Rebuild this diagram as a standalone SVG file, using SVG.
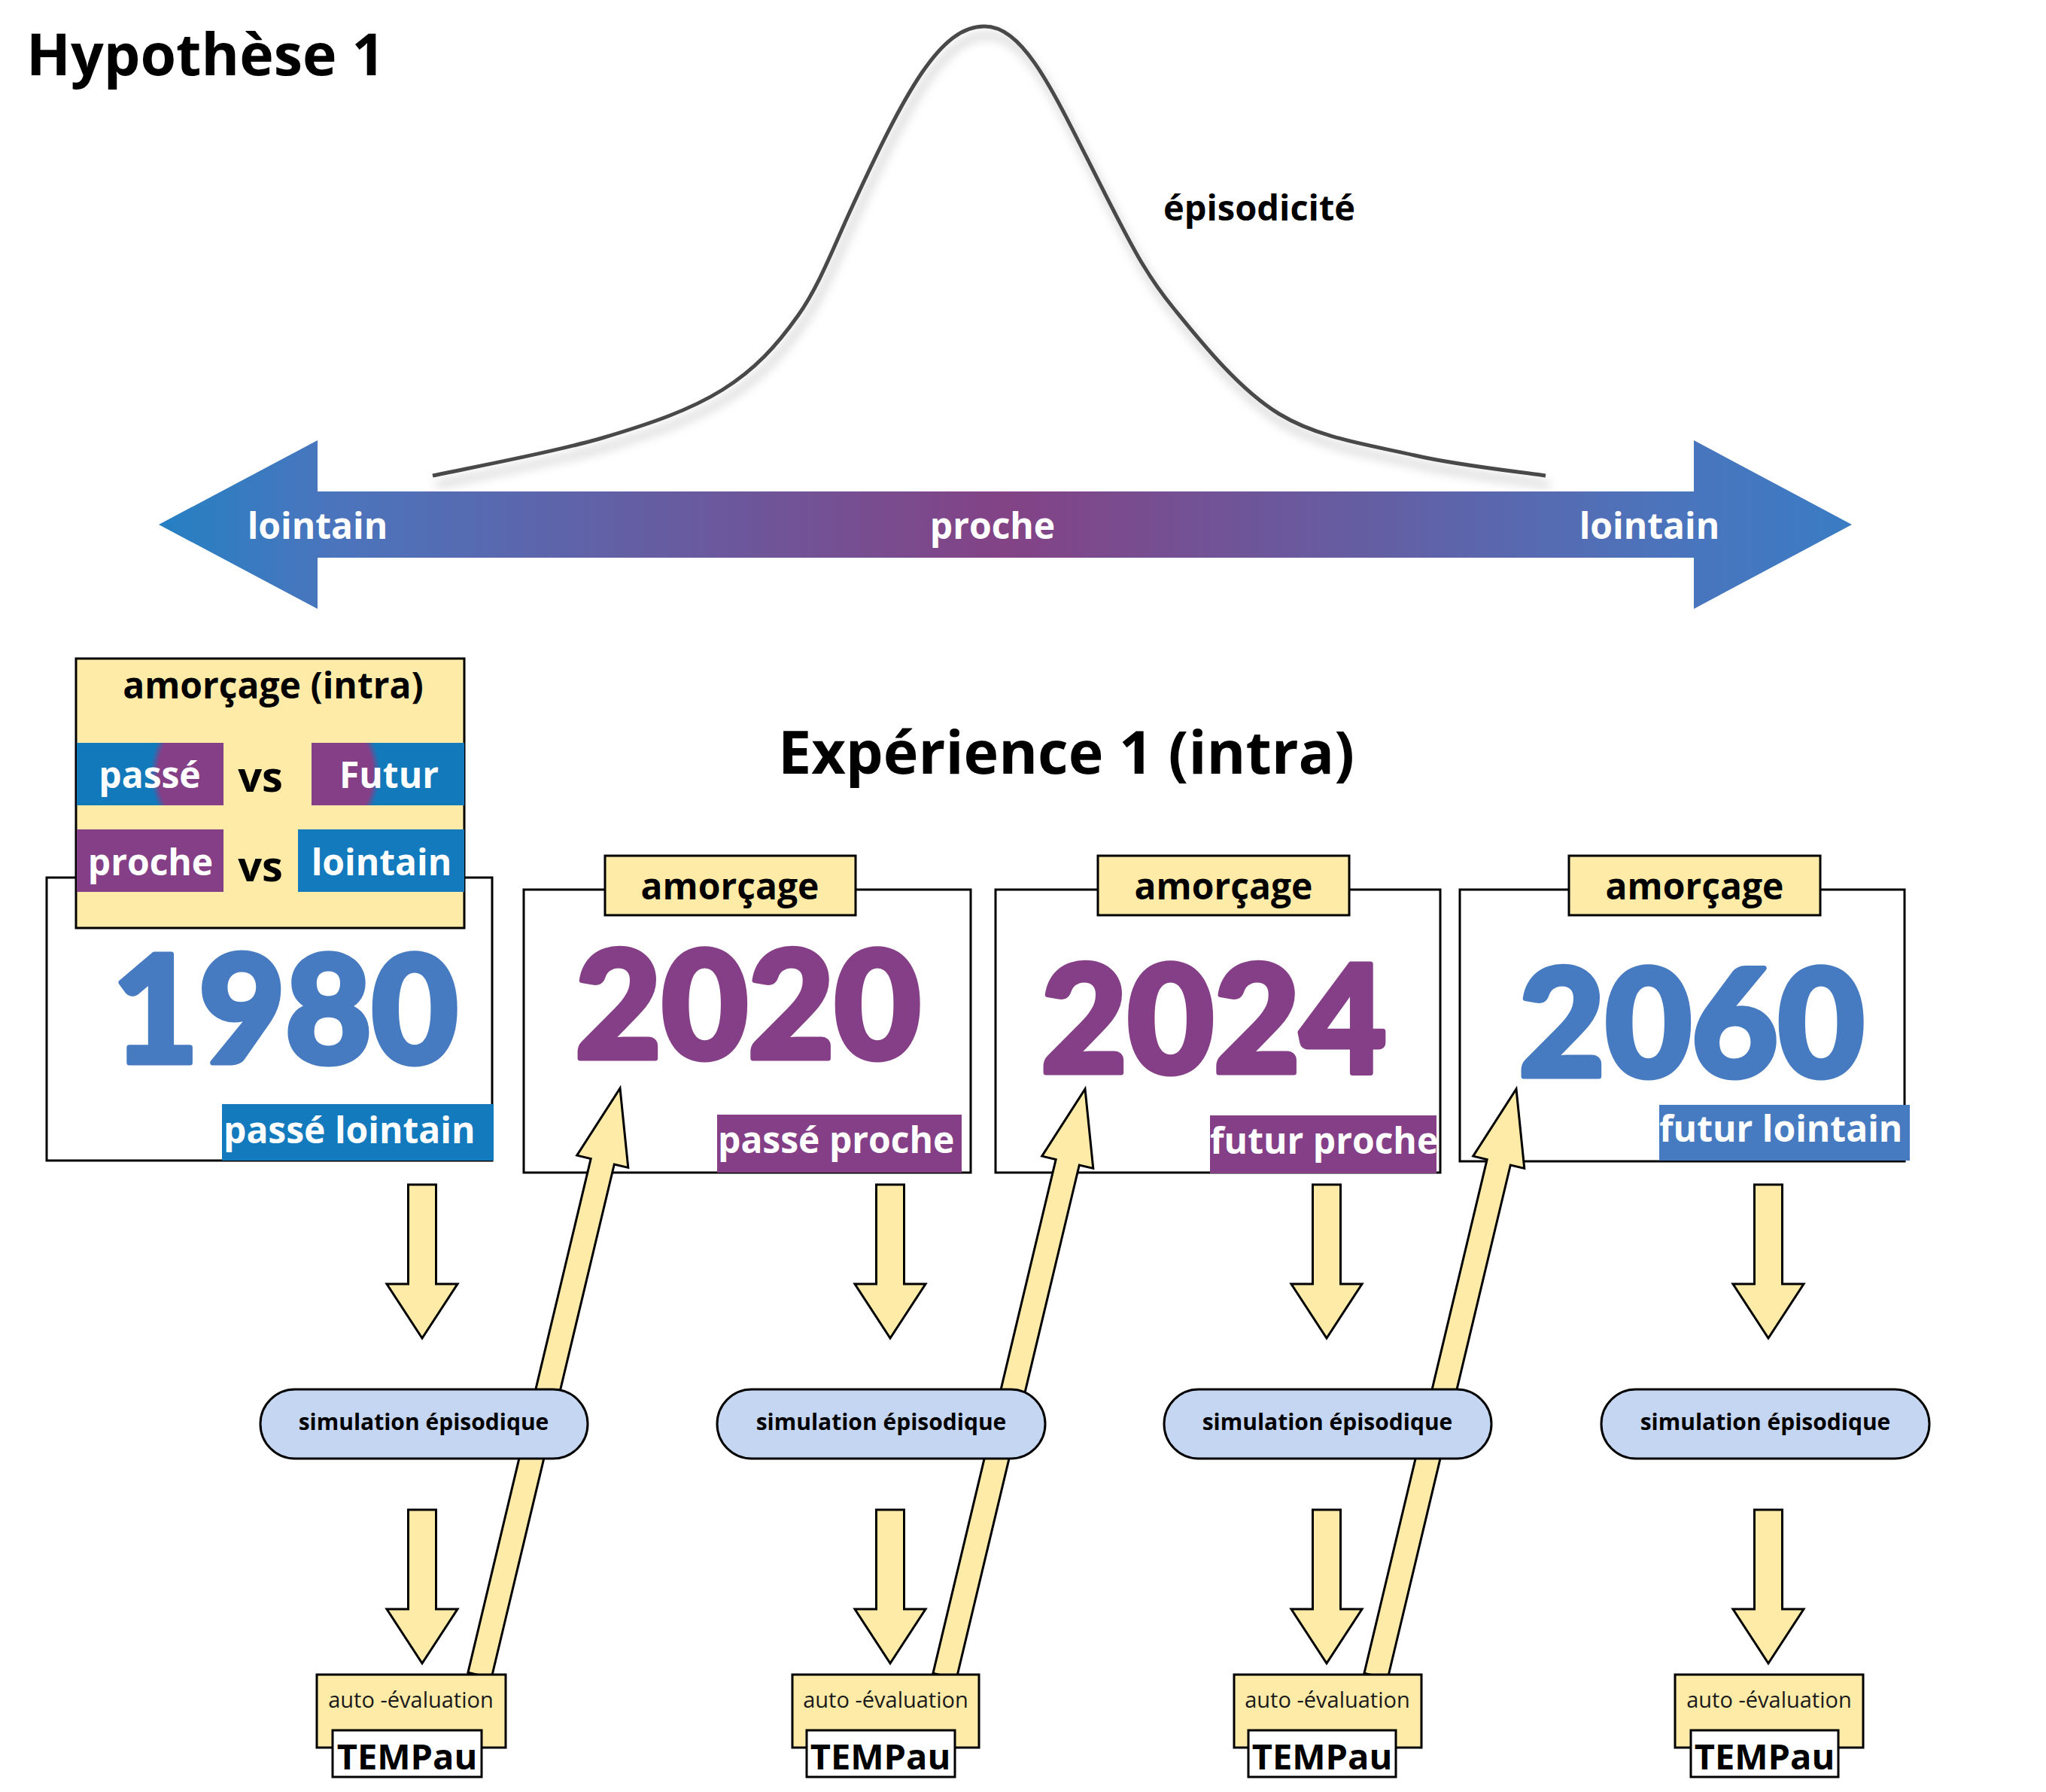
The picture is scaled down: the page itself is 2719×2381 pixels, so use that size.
<svg xmlns="http://www.w3.org/2000/svg" xmlns:xlink="http://www.w3.org/1999/xlink" width="2719" height="2381" viewBox="0 0 2719 2381">
<defs>
<style>
text{font-family:"Open Sans","Noto Sans","Liberation Sans",sans-serif;}
.b{font-weight:700;}
.w{fill:#ffffff;}
.k{fill:#000000;}
.yel{fill:#ffeba8;stroke:#000;stroke-width:3;}
.frame{fill:#ffffff;stroke:#000;stroke-width:3;}
.pill{fill:#c5d6f2;stroke:#000;stroke-width:3;}
.arr{fill:#ffeba8;stroke:#000;stroke-width:3;stroke-linejoin:miter;}
.num{font-family:"Lato","Inter","Open Sans",sans-serif;font-weight:900;font-size:198px;text-anchor:middle;stroke-width:7;stroke-linejoin:round;}
.blue{fill:#477bc1;stroke:#477bc1;}
.purp{fill:#843f87;stroke:#843f87;}
.lab{font-weight:700;font-size:48px;fill:#fff;}
.sim{font-weight:700;font-size:30px;text-anchor:middle;fill:#000;}
.auto{font-size:29px;text-anchor:middle;fill:#1a1a1a;}
.tmp{font-weight:700;font-size:47px;text-anchor:middle;fill:#000;}
.amo{font-weight:700;font-size:48px;text-anchor:middle;fill:#000;}
</style>
<linearGradient id="axis" gradientUnits="userSpaceOnUse" x1="211" y1="0" x2="2461" y2="0">
<stop offset="0" stop-color="#2580c3"/>
<stop offset="0.1" stop-color="#4a75bd"/>
<stop offset="0.5" stop-color="#834385"/>
<stop offset="0.9" stop-color="#4a75bd"/>
<stop offset="1" stop-color="#3a7cc4"/>
</linearGradient>
<radialGradient id="passeG" gradientUnits="userSpaceOnUse" cx="300" cy="1028" r="100">
<stop offset="0.9" stop-color="#843f87"/>
<stop offset="1" stop-color="#1279bb"/>
</radialGradient>
<radialGradient id="futurG" gradientUnits="userSpaceOnUse" cx="405" cy="1028" r="100">
<stop offset="0.9" stop-color="#843f87"/>
<stop offset="1" stop-color="#1279bb"/>
</radialGradient>
<filter id="shadow" x="-10%" y="-10%" width="120%" height="130%">
<feDropShadow dx="5" dy="12" stdDeviation="7" flood-color="#000" flood-opacity="0.28"/>
</filter>
<path id="down" d="M-18.5,0 H18.5 V132 H47 L0,204 L-47,132 H-18.5 Z"/>
<path id="up" d="M0,0 L35,100 L16,100 L16,802 L-16,802 L-16,100 L-35,100 Z"/>
</defs>

<rect width="2719" height="2381" fill="#ffffff"/>

<g id="title">
<text x="35" y="100" class="b" font-size="77">Hypothèse 1</text>
</g>

<g id="bell-curve">
<path d="M575,632 C612.5,623.7 735.8,601 800,582 C864.2,563 916.7,545 960,518 C1003.3,491 1031.7,459.7 1060,420 C1088.3,380.3 1106.7,330.8 1130,280 C1204.6,117.4 1250,35 1308,35 C1366,35 1405,135 1480,280 C1505,328.3 1523.3,365 1560,410 C1596.7,455 1646.7,517.5 1700,550 C1753.3,582.5 1821,591.3 1880,605 C1939,618.7 2025,627.5 2054,632" fill="none" stroke="#484848" stroke-width="5" filter="url(#shadow)"/>
<text x="1546" y="293" class="b" font-size="47">épisodicité</text>
</g>

<g id="time-axis">
<polygon points="211,697 422,585 422,653 2251,653 2251,585 2461,697 2251,809 2251,741 422,741 422,809" fill="url(#axis)"/>
<text x="422" y="716" class="b w" font-size="48" text-anchor="middle">lointain</text>
<text x="1319" y="716" class="b w" font-size="48" text-anchor="middle">proche</text>
<text x="2192" y="716" class="b w" font-size="48" text-anchor="middle">lointain</text>
</g>

<g id="experience-title">
<text x="1417" y="1028" class="b" font-size="79" text-anchor="middle">Expérience 1 (intra)</text>
</g>

<g id="node-1980">
<rect x="62" y="1166" width="592" height="376" class="frame"/>
<text x="379" y="1412" class="num blue">1980</text>
<rect x="295" y="1467" width="361" height="75" fill="#127abd"/>
<text x="297" y="1519" class="lab">passé lointain</text>
</g>

<g id="node-amorcage-intra">
<rect x="101" y="875" width="516" height="358" class="yel"/>
<text x="363" y="928" class="amo">amorçage (intra)</text>
<rect x="102" y="987" width="195" height="83" fill="url(#passeG)"/>
<text x="199" y="1047" class="lab" text-anchor="middle">passé</text>
<text x="346" y="1052" class="b k" font-size="56" text-anchor="middle">vs</text>
<rect x="414" y="987" width="203" height="83" fill="url(#futurG)"/>
<text x="517" y="1047" class="lab" text-anchor="middle">Futur</text>
<rect x="102" y="1102" width="195" height="83" fill="#843f87"/>
<text x="200" y="1163" class="lab" text-anchor="middle">proche</text>
<text x="346" y="1171" class="b k" font-size="56" text-anchor="middle">vs</text>
<rect x="396" y="1102" width="221" height="83" fill="#127abd"/>
<text x="507" y="1163" class="lab" text-anchor="middle">lointain</text>
</g>

<g id="node-2020">
<rect x="696" y="1182" width="594" height="376" class="frame"/>
<rect x="804" y="1137" width="333" height="79" class="yel"/>
<text x="970" y="1195" class="amo">amorçage</text>
<text x="994" y="1406" class="num purp">2020</text>
<rect x="953" y="1481" width="325" height="77" fill="#843f87"/>
<text x="954" y="1532" class="lab">passé proche</text>
</g>

<g id="node-2024">
<rect x="1323" y="1182" width="591" height="376" class="frame"/>
<rect x="1459" y="1137" width="334" height="79" class="yel"/>
<text x="1626" y="1195" class="amo">amorçage</text>
<text x="1613" y="1425" class="num purp">2024</text>
<rect x="1608" y="1482" width="301" height="77" fill="#843f87"/>
<text x="1608" y="1533" class="lab">futur proche</text>
</g>

<g id="node-2060">
<rect x="1940" y="1182" width="591" height="361" class="frame"/>
<rect x="2085" y="1137" width="334" height="79" class="yel"/>
<text x="2252" y="1195" class="amo">amorçage</text>
<text x="2248" y="1430" class="num blue">2060</text>
<rect x="2205" y="1468" width="333" height="74" fill="#477bc1"/>
<text x="2205" y="1517" class="lab">futur lointain</text>
</g>

<g id="connectors">
<use href="#up" class="arr" transform="translate(824,1446) rotate(13.45)"/>
<use href="#up" class="arr" transform="translate(1442,1447) rotate(13.45)"/>
<use href="#up" class="arr" transform="translate(2015,1447) rotate(13.45)"/>
<use href="#down" class="arr" x="561" y="1574"/>
<use href="#down" class="arr" x="561" y="2006"/>
<use href="#down" class="arr" x="1183" y="1574"/>
<use href="#down" class="arr" x="1183" y="2006"/>
<use href="#down" class="arr" x="1763" y="1574"/>
<use href="#down" class="arr" x="1763" y="2006"/>
<use href="#down" class="arr" x="2350" y="1574"/>
<use href="#down" class="arr" x="2350" y="2006"/>
</g>

<g id="sim-1">
<rect x="346" y="1846" width="435" height="92" rx="46" class="pill"/>
<text x="563" y="1900" class="sim">simulation épisodique</text>
</g>
<g id="sim-2">
<rect x="953" y="1846" width="436" height="92" rx="46" class="pill"/>
<text x="1171" y="1900" class="sim">simulation épisodique</text>
</g>
<g id="sim-3">
<rect x="1547" y="1846" width="435" height="92" rx="46" class="pill"/>
<text x="1764" y="1900" class="sim">simulation épisodique</text>
</g>
<g id="sim-4">
<rect x="2128" y="1846" width="436" height="92" rx="46" class="pill"/>
<text x="2346" y="1900" class="sim">simulation épisodique</text>
</g>

<g id="eval-1">
<rect x="421" y="2225" width="251" height="97" class="yel"/>
<text x="546" y="2269" class="auto">auto -évaluation</text>
<rect x="442" y="2299" width="198" height="62" class="frame"/>
<text x="541" y="2351" class="tmp">TEMPau</text>
</g>
<g id="eval-2">
<rect x="1053" y="2225" width="248" height="97" class="yel"/>
<text x="1177" y="2269" class="auto">auto -évaluation</text>
<rect x="1072" y="2299" width="197" height="62" class="frame"/>
<text x="1170" y="2351" class="tmp">TEMPau</text>
</g>
<g id="eval-3">
<rect x="1640" y="2225" width="249" height="97" class="yel"/>
<text x="1764" y="2269" class="auto">auto -évaluation</text>
<rect x="1659" y="2299" width="196" height="62" class="frame"/>
<text x="1757" y="2351" class="tmp">TEMPau</text>
</g>
<g id="eval-4">
<rect x="2226" y="2225" width="250" height="97" class="yel"/>
<text x="2351" y="2269" class="auto">auto -évaluation</text>
<rect x="2247" y="2299" width="196" height="62" class="frame"/>
<text x="2345" y="2351" class="tmp">TEMPau</text>
</g>
</svg>
